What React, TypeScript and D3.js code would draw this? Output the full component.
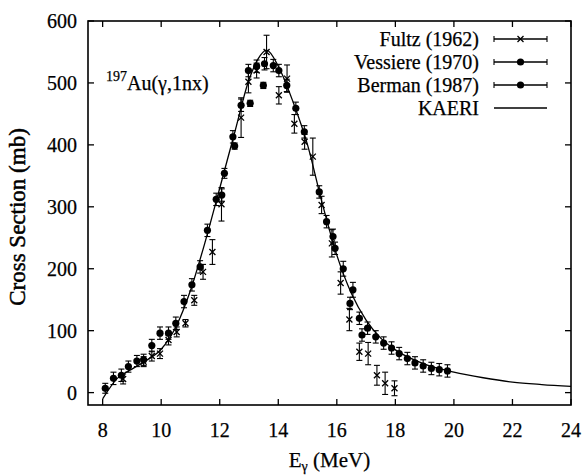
import { useEffect, useRef } from "react";
import * as d3 from "d3";

// Fultz (1962)
const fultzE = [8.7, 9.4, 9.68, 9.96, 10.25, 10.53, 10.83, 11.13, 11.43, 11.75, 12.06, 12.73, 12.98, 13.26, 13.6, 14.02, 14.3, 14.55, 14.9, 15.18, 15.48, 15.83, 16.13, 16.43, 16.77, 17.07, 17.37, 17.65, 17.97];
const fultzCS = [22, 50, 59, 63, 85, 98, 112, 149, 195, 227, 304, 444, 502, 520, 550, 480, 507, 434, 405, 381, 303, 241, 177, 118, 66, 63, 28, 15, 7];
const fultzErr = [8, 8, 8, 8, 8, 8, 6, 8, 12, 20, 27, 32, 18, 12, 27, 14, 22, 15, 12, 30, 14, 22, 18, 18, 14, 18, 16, 18, 12];

// Vessiere (1970)
const vessE = [8.09, 8.37, 8.64, 8.88, 9.17, 9.4, 9.68, 9.96, 10.25, 10.5, 10.78, 11.05, 11.33, 11.58, 11.88, 12.07, 12.16, 12.45, 12.73, 12.98, 13.26, 13.53, 13.83, 14.29, 14.6, 14.89, 15.4, 15.65, 15.87, 16.22, 16.55];
const vessCS = [7, 23, 28, 42, 51, 53, 76, 96, 96, 112, 147, 174, 203, 262, 312, 319, 354, 413, 464, 520, 527, 531, 528, 496, 459, 421, 324, 276, 252, 200, 166];
const vessErr = [8, 10, 10, 9, 9, 9, 10, 10, 10, 10, 10, 10, 10, 10, 10, 10, 8, 10, 10, 10, 10, 10, 10, 10, 10, 10, 10, 10, 12, 12, 12];

// Berman (1987)
const bermE = [12.51, 13.04, 13.49, 14.02, 15.94, 16.45, 16.77, 16.86, 17.05, 17.33, 17.6, 17.87, 18.13, 18.41, 18.67, 18.95, 19.23, 19.5, 19.78];
const bermCS = [398, 467, 496, 520, 233, 144, 120, 93, 104, 90, 80, 72, 63, 55, 48, 43, 39, 37, 35];
const bermErr = [5, 5, 5, 10, 10, 10, 10, 10, 10, 10, 10, 10, 10, 10, 10, 10, 10, 10, 10];

// KAERI evaluation
const kaeriE = [8.0, 8.5, 9.0, 9.5, 10, 10.5, 11, 11.5, 12, 12.5, 13, 13.3, 13.6, 14.0, 14.5, 15, 15.5, 16, 16.5, 17, 17.5, 18, 19, 20, 21, 22, 23, 24];
const kaeriCS = [-10, 23, 38, 52, 70, 106, 165, 243, 330, 418, 505, 538, 553, 527, 470, 400, 306, 222, 160, 117, 88, 69, 46, 33, 24, 17, 13, 10];

const xTicks = [8, 10, 12, 14, 16, 18, 20, 22, 24];
const yTicks = [0, 100, 200, 300, 400, 500, 600];
const legendNames = ["Fultz (1962)", "Vessiere (1970)", "Berman (1987)", "KAERI"];

export default function App() {
  const ref = useRef<SVGSVGElement | null>(null);

  useEffect(() => {
    const width = 582;
    const height = 475;
    const margin = { top: 21, right: 11, bottom: 70, left: 88 };
    const font = "'Liberation Serif', 'Times New Roman', serif";

    const svg = d3.select(ref.current).attr("width", width).attr("height", height).style("background", "#fff");
    svg.selectAll("*").remove();

    const x = d3.scaleLinear().domain([7.5, 24]).range([margin.left, width - margin.right]);
    const y = d3.scaleLinear().domain([-20, 600]).range([height - margin.bottom, margin.top]);

    const g = svg.append("g").attr("fill", "#000").attr("font-family", font);

    // clip for the curve
    svg
      .append("clipPath")
      .attr("id", "plotclip")
      .append("rect")
      .attr("x", x(7.5))
      .attr("y", y(600))
      .attr("width", x(24) - x(7.5))
      .attr("height", y(-20) - y(600));

    // text helper with a faint stroke, like the heavy scanned type
    const txt = (sel: d3.Selection<any, unknown, null, undefined>) =>
      sel.append("text").attr("stroke", "#000").attr("stroke-width", 0.25);

    // ticks (inward, mirrored)
    const tl = 6;
    xTicks.forEach((t) => {
      g.append("line").attr("x1", x(t)).attr("x2", x(t)).attr("y1", y(-20)).attr("y2", y(-20) - tl).attr("stroke", "#000").attr("stroke-width", 1.3);
      g.append("line").attr("x1", x(t)).attr("x2", x(t)).attr("y1", y(600)).attr("y2", y(600) + tl).attr("stroke", "#000").attr("stroke-width", 1.3);
      txt(g)
        .attr("x", x(t))
        .attr("y", y(-20) + 32)
        .attr("text-anchor", "middle")
        .attr("font-size", 20)
        .text(t);
    });
    yTicks.forEach((t) => {
      g.append("line").attr("x1", x(7.5)).attr("x2", x(7.5) + tl).attr("y1", y(t)).attr("y2", y(t)).attr("stroke", "#000").attr("stroke-width", 1.3);
      g.append("line").attr("x1", x(24)).attr("x2", x(24) - tl).attr("y1", y(t)).attr("y2", y(t)).attr("stroke", "#000").attr("stroke-width", 1.3);
      txt(g)
        .attr("x", x(7.5) - 11)
        .attr("y", y(t) + 7)
        .attr("text-anchor", "end")
        .attr("font-size", 20)
        .text(t);
    });

    // frame
    g.append("rect")
      .attr("x", x(7.5))
      .attr("y", y(600))
      .attr("width", x(24) - x(7.5))
      .attr("height", y(-20) - y(600))
      .attr("fill", "none")
      .attr("stroke", "#000")
      .attr("stroke-width", 1.6);

    // axis titles
    const xt = txt(g).attr("x", (x(7.5) + x(24)) / 2).attr("y", 467).attr("text-anchor", "middle").attr("font-size", 21);
    xt.append("tspan").text("E");
    xt.append("tspan").attr("font-size", 14).attr("dy", 4).text("γ");
    xt.append("tspan").attr("dy", -4).text(" (MeV)");

    txt(g)
      .attr("transform", `translate(25, ${(y(-20) + y(600)) / 2 + 4}) rotate(-90)`)
      .attr("text-anchor", "middle")
      .attr("font-size", 23)
      .attr("stroke-width", 0.5)
      .text("Cross Section (mb)");

    // reaction label
    const rl = txt(g).attr("x", 106).attr("y", 90).attr("font-size", 20);
    rl.append("tspan").attr("font-size", 14).attr("dy", -9).text("197");
    rl.append("tspan").attr("dy", 9).text("Au(γ,1nx)");

    // KAERI curve
    const line = d3
      .line<number>()
      .x((_, i) => x(kaeriE[i]))
      .y((d) => y(d))
      .curve(d3.curveMonotoneX);
    g.append("path")
      .datum(kaeriCS)
      .attr("d", line)
      .attr("fill", "none")
      .attr("stroke", "#000")
      .attr("stroke-width", 1.3)
      .attr("clip-path", "url(#plotclip)");

    const cap = 3;
    const errBars = (es: number[], vs: number[], errs: number[]) => {
      es.forEach((e, i) => {
        const px = x(e);
        const lo = y(vs[i] - errs[i]);
        const hi = y(vs[i] + errs[i]);
        g.append("line").attr("x1", px).attr("x2", px).attr("y1", lo).attr("y2", hi).attr("stroke", "#000").attr("stroke-width", 1.1);
        g.append("line").attr("x1", px - cap).attr("x2", px + cap).attr("y1", lo).attr("y2", lo).attr("stroke", "#000").attr("stroke-width", 1.1);
        g.append("line").attr("x1", px - cap).attr("x2", px + cap).attr("y1", hi).attr("y2", hi).attr("stroke", "#000").attr("stroke-width", 1.1);
      });
    };

    const cross = (cx: number, cy: number) => {
      const s = 3;
      g.append("path")
        .attr("d", `M${cx - s},${cy - s}L${cx + s},${cy + s}M${cx - s},${cy + s}L${cx + s},${cy - s}`)
        .attr("stroke", "#000")
        .attr("stroke-width", 1.3)
        .attr("fill", "none");
    };
    const dot = (cx: number, cy: number) => {
      g.append("circle").attr("cx", cx).attr("cy", cy).attr("r", 3.6).attr("fill", "#000");
    };

    errBars(fultzE, fultzCS, fultzErr);
    errBars(vessE, vessCS, vessErr);
    errBars(bermE, bermCS, bermErr);
    fultzE.forEach((e, i) => cross(x(e), y(fultzCS[i])));
    vessE.forEach((e, i) => dot(x(e), y(vessCS[i])));
    bermE.forEach((e, i) => dot(x(e), y(bermCS[i])));

    // legend
    const lx0 = 494;
    const lx1 = 547;
    const lmid = (lx0 + lx1) / 2;
    legendNames.forEach((name, i) => {
      const ly = 39 + i * 23;
      txt(g).attr("x", 479).attr("y", ly + 7).attr("text-anchor", "end").attr("font-size", 20).text(name);
      g.append("line").attr("x1", lx0).attr("x2", lx1).attr("y1", ly).attr("y2", ly).attr("stroke", "#000").attr("stroke-width", 1.3);
      if (i < 3) {
        g.append("line").attr("x1", lx0).attr("x2", lx0).attr("y1", ly - cap).attr("y2", ly + cap).attr("stroke", "#000").attr("stroke-width", 1.1);
        g.append("line").attr("x1", lx1).attr("x2", lx1).attr("y1", ly - cap).attr("y2", ly + cap).attr("stroke", "#000").attr("stroke-width", 1.1);
        if (i === 0) cross(lmid, ly);
        else dot(lmid, ly);
      }
    });
  }, []);

  return <svg ref={ref} style={{ position: "absolute", left: 0, top: 0, display: "block" }} />;
}
